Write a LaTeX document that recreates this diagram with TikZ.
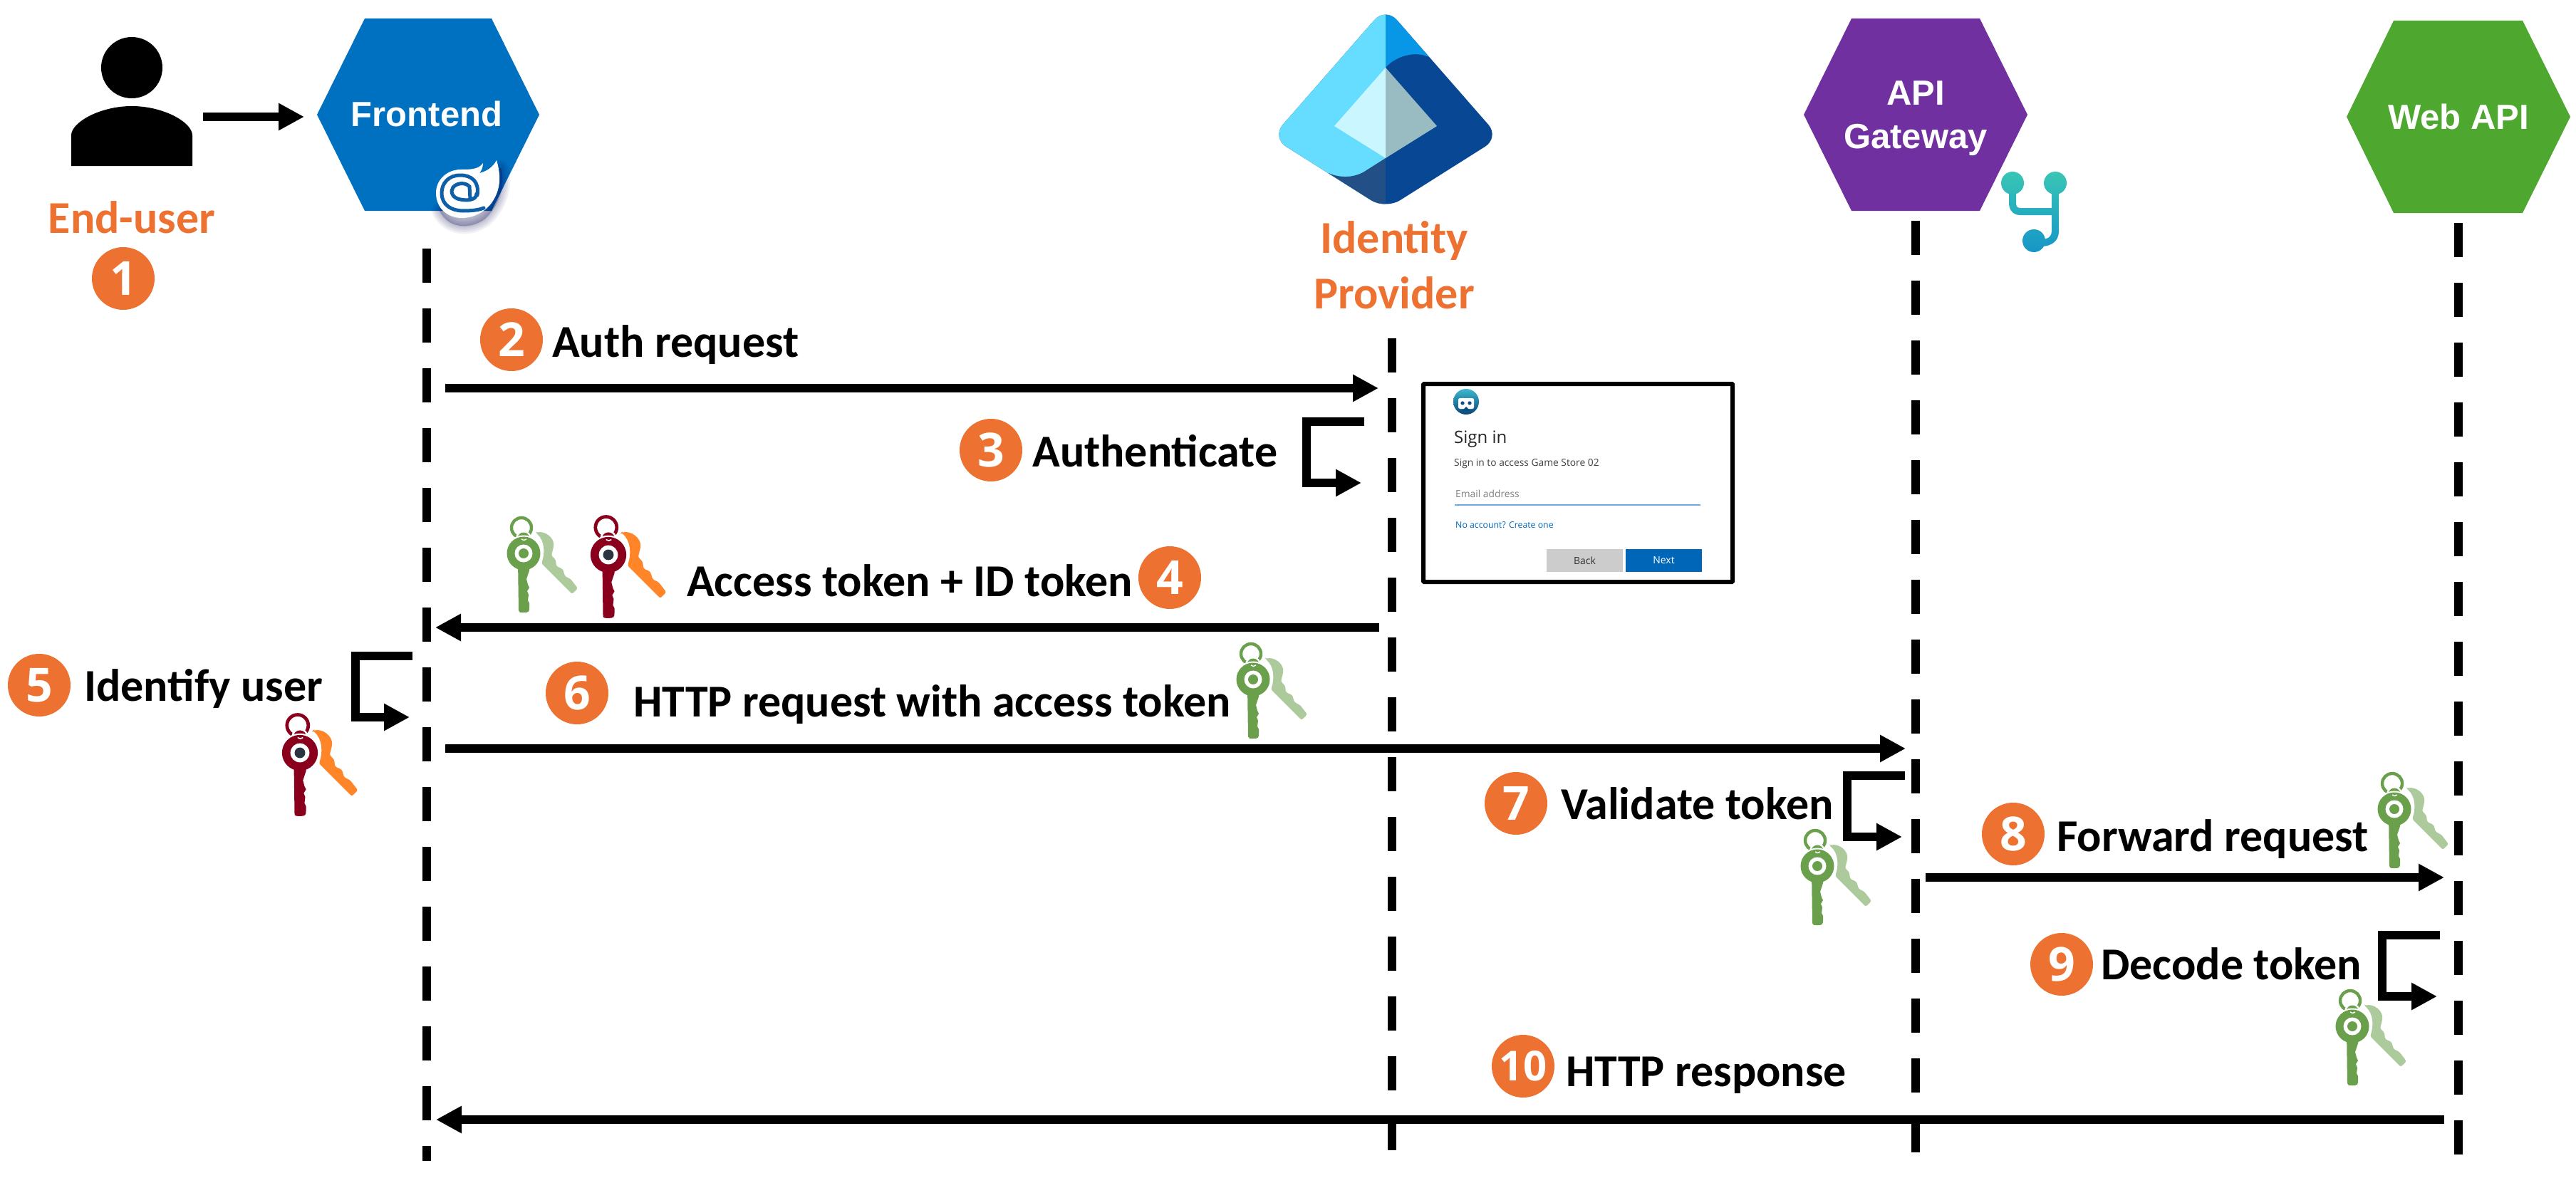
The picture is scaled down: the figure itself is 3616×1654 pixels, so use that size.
\documentclass[tikz,border=0pt]{standalone}
\usepackage{fontspec}
\setmainfont{Carlito}
\newfontfamily\hexfont{Liberation Sans}
\newfontfamily\uifont{Open Sans}
\usetikzlibrary{arrows.meta,shapes.geometric}
\definecolor{orng}{HTML}{ED7232}
\definecolor{feblue}{HTML}{0070C0}
\definecolor{gwpurple}{HTML}{7030A0}
\definecolor{apigreen}{HTML}{4EA72E}
\definecolor{kgreen}{HTML}{6A9F4B}
\definecolor{kgreenl}{HTML}{ACCA9B}
\definecolor{kred}{HTML}{8A001C}
\definecolor{korange}{HTML}{FF8528}
\definecolor{kdot}{HTML}{2B3440}
\definecolor{blazor}{HTML}{0F5FA8}
\definecolor{msblue}{HTML}{0067B8}
\definecolor{idbase}{HTML}{074793}
\definecolor{idlight}{HTML}{66DDFF}
\definecolor{idtop}{HTML}{0897E6}
\definecolor{idlow}{HTML}{225086}
\definecolor{idcl}{HTML}{C9F6FF}
\definecolor{idcr}{HTML}{99BBC2}
\definecolor{padblue}{HTML}{0F4C81}
\definecolor{ulblue}{HTML}{6FA8DC}
\tikzset{
  arr/.style={line width=12pt,line join=miter,-{Triangle[length=36pt,width=36pt]}},
  life/.style={line width=12pt,dash pattern=on 48pt off 36pt},
  lab/.style={anchor=base west,inner sep=0pt,font=\bfseries\fontsize{64}{70}\selectfont},
  olab/.style={anchor=base,inner sep=0pt,text=orng,font=\bfseries\fontsize{64}{70}\selectfont},
  hexlab/.style={anchor=base,inner sep=0pt,text=white,font=\hexfont\bfseries\fontsize{49}{52}\selectfont},
  num/.style={circle,fill=orng,text=white,inner sep=0pt,minimum size=88pt,font=\uifont\bfseries\fontsize{66}{66}\selectfont},
  ui/.style={anchor=base west,inner sep=0pt,font=\uifont\fontsize{13.8}{15}\selectfont}
}
\newcommand{\keyset}[6]{%
\begin{scope}[shift={(#1,#2)},scale=#3]
  % second key
  \fill[#5,rounded corners=2.5pt] (17,-29) .. controls (30,-32) and (43,-22) .. (42,-9) -- (39,3) -- (45,9) -- (46,18) -- (55,22) -- (58,32) -- (66,36) -- (76,49) -- (68,57) -- (25,14) .. controls (30,0) and (30,-18) .. cycle;
  % ring
  \draw[#4,line width=#3*4.4pt] (-3,-36) circle[radius=14];
  \fill[white] (0,-21) circle[radius=11];
  \fill[#4] (0,-21) circle[radius=8.5];
  % head
  \fill[white] (0,0) circle[radius=25.5];
  \fill[#4] (-8,10) -- (-7,80) .. controls (-7,83) and (-5,83) .. (0,83) .. controls (7,83) and (8,82) .. (8,76) -- (8,70) -- (6,66) -- (7,58) -- (5,53) -- (8,48) -- (6,44) -- (4,36) -- (8,24) -- (8,10) -- cycle;
  \fill[#4] (0,0) circle[radius=23.5];
  \fill[white] (0,0) circle[radius=12.5];
  \fill[#6] (0,0) circle[radius=7];
  \draw[white,line width=#3*1.4pt] (-3,-20) .. controls (-1,-18) and (2,-18) .. (4,-20);
\end{scope}}
\begin{document}
\begin{tikzpicture}[x=1pt,y=-1pt]
\useasboundingbox (0,0) rectangle (3616,1654);
\fill[white] (0,0) rectangle (3616,1654);

% hexagons
\fill[feblue] (445,161) -- (512,26) -- (690,26) -- (757,161) -- (690,296) -- (512,296) -- cycle;
\fill[gwpurple] (2532,161) -- (2599,26) -- (2779,26) -- (2846,161) -- (2779,296) -- (2599,296) -- cycle;
\fill[apigreen] (3294,164) -- (3360,29) -- (3541,29) -- (3608,164) -- (3541,299) -- (3360,299) -- cycle;
\node[hexlab] (frontend) at (599,177) {Frontend};
\node[hexlab] (gwa) at (2689,147) {API};
\node[hexlab] (gwb) at (2689,208) {Gateway};
\node[hexlab] (webapi) at (3451,181) {Web API};

% blazor badge
\foreach \w in {22,17,12,7,3}{
  \filldraw[black!70!blue,opacity=.055,line join=round,line width=\w pt]
  (703,236) .. controls (710,262) and (700,290) .. (680,308) .. controls (660,322) and (630,322) .. (617,296) -- (660,270) -- cycle;
}
\fill[white] (697,225) .. controls (703,245) and (704,265) .. (690,285) .. controls (680,298) and (665,306) .. (648,306)
  .. controls (628,306) and (612,292) .. (612,271) .. controls (612,252) and (628,238) .. (647,238)
  .. controls (660,238) and (672,238) .. (678,229) .. controls (678,235) and (676,239) .. (673,243)
  .. controls (682,241) and (692,235) .. (697,225) -- cycle;
\draw[blazor,line width=5pt,line cap=round] (670,274) .. controls (673,255) and (662,246) .. (646,246)
  .. controls (630,246) and (620,257) .. (620,271) .. controls (620,288) and (634,296) .. (650,296)
  .. controls (662,296) and (672,295) .. (679,292);
\draw[blazor,line width=5pt,line cap=round] (669,272) .. controls (669,281) and (656,282) .. (646,280)
  .. controls (634,278) and (632,268) .. (636,263) .. controls (642,256) and (654,256) .. (659,262) -- (660,279);

% person
\fill[black] (185,95) ellipse[x radius=43,y radius=43];
\fill[black] (100,233) -- (100,190) .. controls (100,172) and (140,149) .. (185,149) .. controls (230,149) and (270,172) .. (270,190) -- (270,233) -- cycle;
\coordinate (p1) at (285,164);
\coordinate (p2) at (427,164);
\draw[arr] (p1) -- (p2);

% identity logo
\begin{scope}
  \clip[rounded corners=24pt] (1945,10) -- (1785,193) -- (1945,294) -- (2105,193) -- cycle;
  \fill[idbase] (1700,0) rectangle (2200,320);
  \fill[idlight] (1700,0) rectangle (1945,320);
  \fill[idtop] (1945,0) -- (1945,95) .. controls (1955,82) and (1985,68) .. (2010,82) -- (2050,60) -- (2050,0) -- cycle;
  \fill[idlow] (1945,222) -- (1915,241) .. controls (1900,250) and (1880,250) .. (1865,243) -- (1840,300) -- (1945,300) -- cycle;
  \fill[idcl] (1945,95) -- (1873,177) -- (1945,222) -- cycle;
  \fill[idcr] (1945,95) -- (2017,177) -- (1945,222) -- cycle;
\end{scope}
\node[olab] (endu) at (185,327) {End-user};
\node[olab] (idp1) at (1957,355) {Identity};
\node[olab] (idp2) at (1957,433) {Provider};

% git icon
\begin{scope}
  \clip (2825,257) ellipse[x radius=16,y radius=16]
        (2885,257) ellipse[x radius=16,y radius=16]
        (2855,338) ellipse[x radius=16,y radius=16]
        (2820,260) -- (2830,260) -- (2830,285) .. controls (2830,290) and (2832,292) .. (2836,292) -- (2880,292) -- (2880,260) -- (2890,260) -- (2890,325) .. controls (2890,338) and (2880,346) .. (2865,346) -- (2860,346) -- (2860,336) -- (2865,336) .. controls (2875,336) and (2880,332) .. (2880,325) -- (2880,302) -- (2836,302) .. controls (2826,302) and (2820,295) .. (2820,285) -- cycle;
  \shade[top color={rgb,255:red,58;green,200;blue,180},bottom color={rgb,255:red,20;green,147;blue,200}] (2800,235) rectangle (2910,360);
\end{scope}

% lifelines
\coordinate (feTop) at (599,349);
\coordinate (feBot) at (599,1630);
\coordinate (idTop) at (1954,475);
\coordinate (idBot) at (1954,1615);
\coordinate (gwTop) at (2689,310);
\coordinate (gwBot) at (2689,1620);
\coordinate (apTop) at (3451,313);
\coordinate (apBot) at (3451,1623);
\draw[life] (feTop) -- (feBot);
\draw[life] (idTop) -- (idBot);
\draw[life] (gwTop) -- (gwBot);
\draw[life] (apTop) -- (apBot);

% messages
\coordinate (a2s) at (625,545); \coordinate (a2e) at (1935,545);
\draw[arr] (a2s) -- (a2e);
\coordinate (a3s) at (1915,592); \coordinate (a3m) at (1834,592); \coordinate (a3n) at (1834,678); \coordinate (a3e) at (1911,678);
\draw[arr] (a3s) -- (a3m) -- (a3n) -- (a3e);
\coordinate (a4s) at (1936,881); \coordinate (a4e) at (611,881);
\draw[arr] (a4s) -- (a4e);
\coordinate (a5s) at (579,921); \coordinate (a5m) at (499,921); \coordinate (a5n) at (499,1007); \coordinate (a5e) at (575,1007);
\draw[arr] (a5s) -- (a5m) -- (a5n) -- (a5e);
\coordinate (a6s) at (625,1051); \coordinate (a6e) at (2675,1051);
\draw[arr] (a6s) -- (a6e);
\coordinate (a7s) at (2674,1089); \coordinate (a7m) at (2593,1089); \coordinate (a7n) at (2593,1175); \coordinate (a7e) at (2670,1175);
\draw[arr] (a7s) -- (a7m) -- (a7n) -- (a7e);
\coordinate (a8s) at (2703,1232); \coordinate (a8e) at (3431,1232);
\draw[arr] (a8s) -- (a8e);
\coordinate (a9s) at (3425,1313); \coordinate (a9m) at (3344,1313); \coordinate (a9n) at (3344,1399); \coordinate (a9e) at (3421,1399);
\draw[arr] (a9s) -- (a9m) -- (a9n) -- (a9e);
\coordinate (a10s) at (3431,1572); \coordinate (a10e) at (612,1572);
\draw[arr] (a10s) -- (a10e);

% numbers
\node[num] (n1) at (173,391) {1};
\node[num] (n2) at (718,477) {2};
\node[num] (n3) at (1391,632) {3};
\node[num] (n4) at (1642,811) {4};
\node[num] (n5) at (55,962) {5};
\node[num] (n6) at (810,973) {6};
\node[num] (n7) at (2128,1128) {7};
\node[num] (n8) at (2826,1171) {8};
\node[num] (n9) at (2894,1354) {9};
\node[num] (n10) at (2138,1497) {\fontsize{58}{58}\selectfont 10};

% labels
\node[lab] (t2) at (775,501) {Auth request};
\node[lab] (t3) at (1449,655) {Authenticate};
\node[lab] (t4) at (964,837) {Access token + ID token};
\node[lab] (t5) at (118,984) {Identify user};
\node[lab] (t6) at (889,1006) {HTTP request with access token};
\node[lab] (t7) at (2191,1150) {Validate token};
\node[lab] (t8) at (2887,1195) {Forward request};
\node[lab] (t9) at (2949,1375) {Decode token};
\node[lab] (t10) at (2198,1525) {HTTP response};

% keys
\keyset{735}{777}{1}{kgreen}{kgreenl}{kgreen}
\keyset{854}{779}{1.07}{kred}{korange}{kdot}
\keyset{421}{1057}{1.07}{kred}{korange}{kdot}
\keyset{1759}{954}{1}{kgreen}{kgreenl}{kgreen}
\keyset{2551}{1216}{1}{kgreen}{kgreenl}{kgreen}
\keyset{3361}{1136}{1}{kgreen}{kgreenl}{kgreen}
\keyset{3302}{1441}{1}{kgreen}{kgreenl}{kgreen}

% sign-in panel
\draw[line width=6pt,fill=white,rounded corners=1pt] (1998,539) rectangle (2432,817);
\shade[top color={rgb,255:red,60;green,185;blue,205},bottom color={rgb,255:red,10;green,70;blue,120}] (2058,564) circle[radius=18];
\draw[white,line width=1.6pt] (2053,559) arc[start angle=180,end angle=0,radius=5];
\fill[white,rounded corners=2.5pt] (2047,559) rectangle (2069,574);
\fill[padblue] (2053,566) circle[radius=2.6] (2063,566) circle[radius=2.6];
\fill[padblue] (2052,577) -- (2058,571) -- (2064,577) -- cycle;
\node[ui,font=\uifont\fontsize{24}{26}\selectfont,text=black!85] (si) at (2041,622) {Sign in};
\node[ui,text=black!75] (si2) at (2041,654) {Sign in to access Game Store 02};
\node[ui,text=black!50] (em) at (2043,698) {Email address};
\coordinate (ul) at (2042,709); \coordinate (ur) at (2387,709);
\draw[ulblue,line width=1.2pt] (ul) -- (ur);
\node[ui,font=\uifont\fontsize{12.3}{15}\selectfont,text=msblue] (no) at (2043,741) {No account? Create one};
\node[fill=black!20,minimum width=107pt,minimum height=32pt,inner sep=0pt,font=\uifont\fontsize{14}{16}\selectfont,text=black!80] (back) at (2224.5,787) {Back};
\node[fill=msblue,minimum width=107pt,minimum height=32pt,inner sep=0pt,font=\uifont\fontsize{14}{16}\selectfont,text=white] (next) at (2335.5,787) {Next};
\end{tikzpicture}
\end{document}
